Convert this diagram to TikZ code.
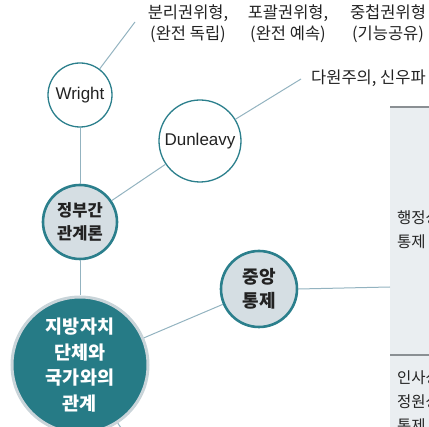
\documentclass[tikz,border=0pt]{standalone}
\usepackage{fontspec}
\setmainfont{Noto Sans CJK KR}
\newfontfamily\latinfont{Liberation Sans}
\definecolor{teal1}{HTML}{2B7F8C}
\definecolor{tealfill}{HTML}{267B86}
\definecolor{lightfill}{HTML}{D5DEE3}
\definecolor{linec}{HTML}{93B3C0}
\definecolor{panelc}{HTML}{EAEEF1}
\definecolor{panelline}{HTML}{8A8F93}
\definecolor{txt}{HTML}{222222}
\definecolor{bigborder}{HTML}{C9D4D9}
\begin{document}
\begin{tikzpicture}[x=1pt,y=-1pt,
  conn/.style={draw=linec,line width=1pt},
  thin circ/.style={circle,draw=teal1,line width=1.3pt,fill=white,inner sep=0pt,text=txt,font=\latinfont\fontsize{17}{20}\selectfont},
  topic/.style={circle,draw=teal1,line width=2.6pt,fill=lightfill,inner sep=0pt,text=txt,align=center,font=\fontsize{16.5}{23}\selectfont\bfseries},
  main/.style={circle,draw=bigborder,line width=3pt,fill=tealfill,inner sep=0pt,text=white,align=center,font=\fontsize{18.5}{25.5}\selectfont\bfseries},
  lbl/.style={text=txt,align=center,inner sep=0pt,font=\fontsize{16.5}{21}\selectfont},
  ptxt/.style={text=txt,align=left,anchor=west,inner sep=0pt,font=\fontsize{15.5}{24}\selectfont}]
\useasboundingbox (0,0) rectangle (429,427);
% right panel
\fill[panelc] (390,107) rectangle (440,440);
\draw[panelline,line width=1.2pt] (390,107) -- (440,107);
\draw[panelline,line width=1.2pt] (390,355) -- (440,355);
\node[ptxt] (p1) at (397,230) {행정상\\통제};
\node[ptxt] (p2) at (397,402) {인사상\\정원상\\통제};
\coordinate (pin) at (390,287);
% top labels
\node[lbl] (t1) at (188,24) {분리권위형,\\(완전 독립)};
\node[lbl] (t2) at (288,24) {포괄권위형,\\(완전 예속)};
\node[lbl] (t3) at (388,24) {중첩권위형\\(기능공유)};
\node[lbl,anchor=west] (t4) at (311,78) {다원주의, 신우파};
\coordinate (wend) at (135,22);
\coordinate (dend) at (301,79);
\coordinate (bend) at (140,455);
% nodes
\node[thin circ,minimum size=64pt] (wright) at (80,95) {Wright};
\node[thin circ,minimum size=82pt] (dun) at (200,141) {Dunleavy};
\node[topic,minimum size=74pt] (igr) at (80,222) {정부간\\관계론};
\node[main,minimum size=136pt] (big) at (80,365) {지방자치\\단체와\\국가와의\\관계};
\node[topic,minimum size=76pt,font=\fontsize{18}{24}\selectfont\bfseries] (cen) at (259,289) {중앙\\통제};
% connectors
\draw[conn] (wright) -- (wend);
\draw[conn] (dun) -- (dend);
\draw[conn] (wright) -- (igr);
\draw[conn] (dun) -- (igr);
\draw[conn] (igr) -- (big);
\draw[conn] (big) -- (cen);
\draw[conn] (cen.east) -- (pin);
\draw[conn] (big.-57) -- (bend);
\end{tikzpicture}
\end{document}
